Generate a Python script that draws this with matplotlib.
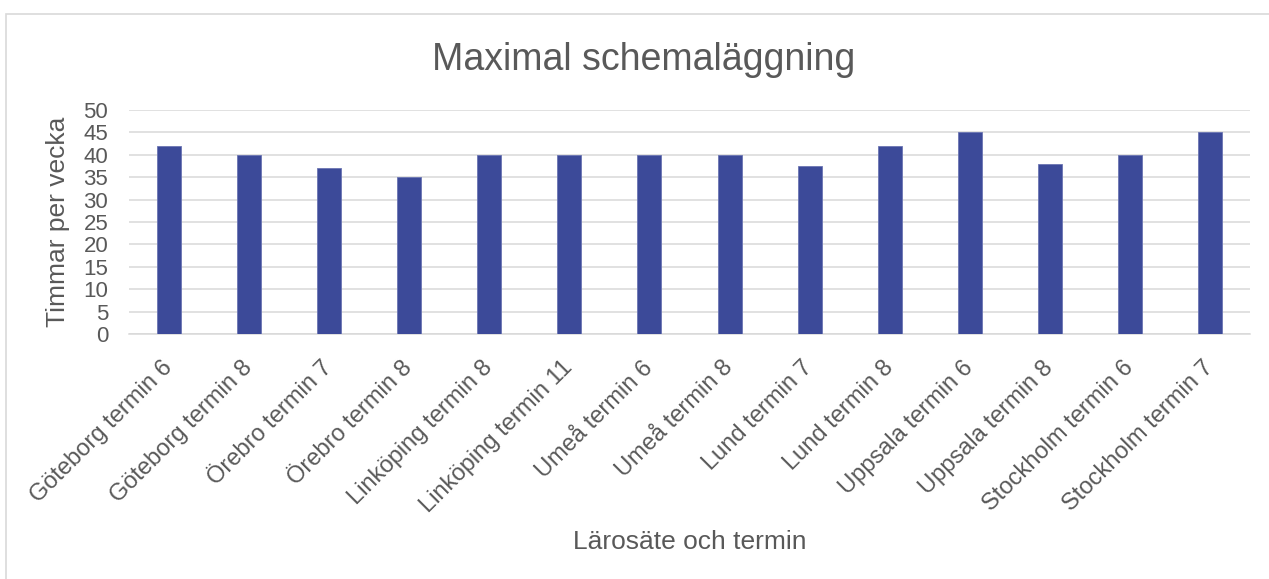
import matplotlib.pyplot as plt
from matplotlib.patches import Rectangle

# Data
categories = [
    "Göteborg termin 6", "Göteborg termin 8", "Örebro termin 7", "Örebro termin 8",
    "Linköping termin 8", "Linköping termin 11", "Umeå termin 6", "Umeå termin 8",
    "Lund termin 7", "Lund termin 8", "Uppsala termin 6", "Uppsala termin 8",
    "Stockholm termin 6", "Stockholm termin 7",
]
hours = [42, 40, 37, 35, 40, 40, 40, 40, 37.5, 42, 45, 38, 40, 45]
y_ticks = list(range(0, 51, 5))

title = "Maximal schemaläggning"
x_title = "Lärosäte och termin"
y_title = "Timmar per vecka"

W, H = 1269, 579
text_color = "#595959"
grid_color = "#d9d9d9"
bar_color = "#3c4a99"

plt.rcParams['font.family'] = ['Liberation Sans', 'DejaVu Sans']

fig = plt.figure(figsize=(W / 100, H / 100), dpi=100)

# chart area border (left and top visible)
fig.patches.append(Rectangle((6 / W, -0.05), 1.2, 1 - 14 / H + 0.05,
                             transform=fig.transFigure, fill=False,
                             edgecolor=grid_color, linewidth=1.2))

ax = fig.add_axes([129 / W, (H - 334) / H, (1250 - 129) / W, 224 / H])

x = range(len(categories))
ax.bar(x, hours, width=0.3, color=bar_color, edgecolor="#6b75b3",
       linewidth=0.6, zorder=3)

ax.set_xlim(-0.5, len(categories) - 0.5)
ax.set_ylim(0, 50)
ax.set_yticks(y_ticks)
ax.yaxis.grid(True, color=grid_color, linewidth=1.1, zorder=0)
ax.set_axisbelow(True)

for s in ["top", "right", "left"]:
    ax.spines[s].set_visible(False)
ax.spines["bottom"].set_color(grid_color)
ax.spines["bottom"].set_linewidth(1.1)

ax.tick_params(axis="y", length=0, pad=15, labelsize=16, labelcolor=text_color)
ax.tick_params(axis="x", length=0, pad=22, labelsize=17, labelcolor=text_color)

ax.set_xticks(list(x))
ax.set_xticklabels(categories, rotation=45, ha="right", va="center",
                   rotation_mode="anchor")

ax.set_xlabel(x_title, fontsize=19, color=text_color, va="top")
ax.xaxis.set_label_coords(0.5, -0.875)
ax.set_ylabel(y_title, fontsize=19, color=text_color)
ax.yaxis.set_label_coords(-0.053, 0.5)

fig.text(644 / W, 1 - 70 / H, title, fontsize=27, color=text_color,
         ha="center", va="baseline")

fig.savefig("out.png", dpi=100)
